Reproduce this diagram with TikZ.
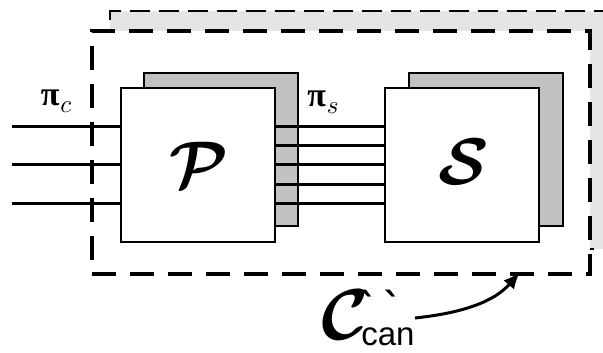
\documentclass[tikz,border=0pt]{standalone}
\usepackage{amsmath,bm}
\usepackage{fontspec}
\setsansfont{Liberation Sans}
\newfontfamily\grk{Liberation Serif}
\newfontfamily\tickfont{DejaVu Sans}
\usetikzlibrary{arrows.meta}
\newcommand{\mysub}[1]{\raisebox{-7pt}{\scalebox{2.5}{\normalsize$#1$}}}
\begin{document}
\begin{tikzpicture}[x=1pt,y=-1pt,
  shadowbox/.style={draw,line width=2.2pt,fill=black!24,minimum width=154pt,minimum height=153pt,inner sep=0pt,anchor=north west},
  frontbox/.style={draw,line width=2.2pt,fill=white,minimum width=154pt,minimum height=154pt,inner sep=0pt,anchor=north west},
  outerbox/.style={draw,line width=4pt,dash pattern=on 24pt off 14pt,fill=white,inner sep=0pt,anchor=north west},
  backframe/.style={draw,line width=2.2pt,dash pattern=on 20pt off 9pt,fill=black!10,inner sep=0pt,anchor=north west},
  wire/.style={line width=3pt},
  pilabel/.style={font=\fontsize{34}{34}\grk\bfseries}
]
\useasboundingbox (0,0) rectangle (603,353);
% background frame and canonical frame
\node[backframe,minimum width=510pt,minimum height=238pt] (back) at (109,10) {};
\node[outerbox,minimum width=498pt,minimum height=243pt] (can) at (90,29) {};
% P and S boxes
\node[shadowbox] (Pb) at (143,72) {};
\node[frontbox] (P) at (120,87) {};
\node[shadowbox] (Sb) at (408,72) {};
\node[frontbox] (S) at (384,87) {};
\node (Pl) at ([xshift=1pt]P.center) {\scalebox{6.6}{$\bm{\mathcal{P}}$}};
\node (Sl) at ([xshift=2pt,yshift=3pt]S.center) {\scalebox{6.6}{$\bm{\mathcal{S}}$}};
% input wires
\foreach \yy [count=\i] in {126,164,203} {
  \coordinate (in\i) at (12,\yy);
  \draw[wire] (in\i) -- (in\i -| P.west);
}
% wires between P and S
\foreach \yy [count=\i] in {126,145,164,184,203} {
  \coordinate (m\i) at (0,\yy);
  \draw[wire] (m\i -| P.east) -- (m\i -| S.west);
}
% labels
\node[pilabel] (pic) at (56,101) {π\kern1pt\mysub{c}};
\node[pilabel] (pis) at (323,102) {π\kern1pt\mysub{s}};
% C'' can label
\node (C) at (345,315) {\scalebox{7.2}{$\bm{\mathcal{C}}$}};
\node[font=\fontsize{38}{38}\tickfont\bfseries,anchor=base,inner sep=0pt] (tick) at (381,320) {ˋ\hspace{5pt}ˋ};
\node[font=\fontsize{33}{33}\sffamily,anchor=base] (sub) at (388,345) {can};
\coordinate (a1) at (415,318);
\coordinate (a2) at (520,272);
\draw[line width=3pt,-{Latex[length=17pt,width=14pt]}] (a1) .. controls (462,313) and (494,302) .. (a2);
\end{tikzpicture}
\end{document}
